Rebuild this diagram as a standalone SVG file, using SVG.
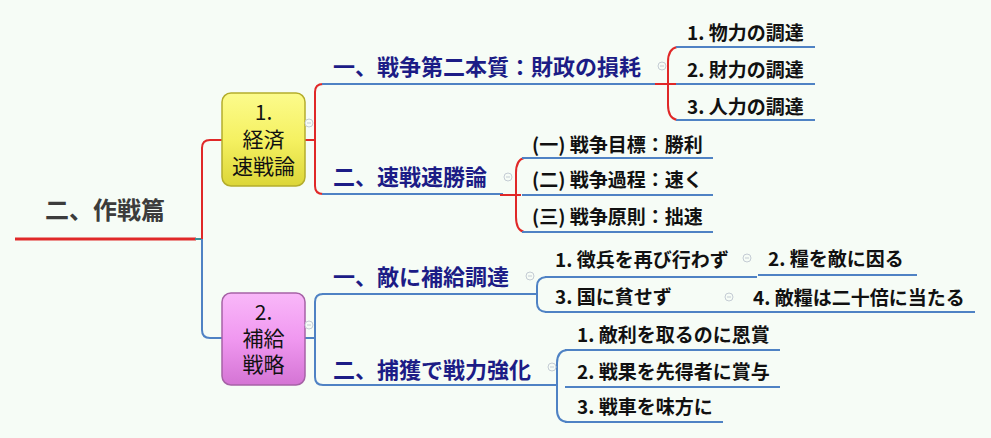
<svg xmlns="http://www.w3.org/2000/svg" width="991" height="438" viewBox="0 0 991 438">
<defs>
<linearGradient id="gy" x1="0" y1="0" x2="0" y2="1">
<stop offset="0" stop-color="#fcfb8c"/><stop offset="0.5" stop-color="#f5f162"/><stop offset="1" stop-color="#dcd638"/>
</linearGradient>
<linearGradient id="gp" x1="0" y1="0" x2="0" y2="1">
<stop offset="0" stop-color="#f9b8f9"/><stop offset="0.5" stop-color="#f098f0"/><stop offset="1" stop-color="#d474d4"/>
</linearGradient>
<g id="tog"><circle r="4" fill="#f6fcf6" stroke="#c4ccd4" stroke-width="1"/><path d="M-2,0H2" stroke="#c4ccd4" stroke-width="1"/></g>
</defs>
<style>
.bg{fill:#f6fcf6}
.r{fill:none;stroke:#e02828;stroke-width:2}
.b{fill:none;stroke:#4f82c4;stroke-width:2}
.root{font-family:"Noto Sans CJK JP","Noto Sans",sans-serif;font-weight:bold;font-size:24px;fill:#3c3c3c}
.box{font-family:"Noto Sans CJK JP","Noto Sans",sans-serif;font-size:21px;fill:#111;text-anchor:middle}
.n{font-family:"Noto Sans CJK JP","Noto Sans",sans-serif;font-weight:bold;font-size:22px;fill:#1c1c86}
.c{font-family:"Noto Sans CJK JP","Noto Sans",sans-serif;font-weight:bold;font-size:19px;fill:#111}
</style>
<rect class="bg" x="0" y="0" width="991" height="438"/>

<g id="connectors">
<path d="M15,239H196" stroke="#e02828" stroke-width="3" fill="none"/>
<path d="M195,239H202" stroke="#3a8f96" stroke-width="2" fill="none"/>
<path class="r" d="M222,140H210Q202,140 202,148V239"/>
<path class="b" d="M202,239V330Q202,338 210,338H222"/>
<path class="r" d="M305,140H315"/>
<path class="r" d="M323,84Q315,84 315,92V186Q315,194 323,194"/>
<path class="b" d="M322,84H657"/>
<path class="b" d="M322,194H503"/>
<path class="r" d="M655,84H676"/>
<path class="r" d="M677,47Q668,49 668,62V105Q668,118 677,120"/>
<path class="b" d="M676,47H815M676,84H815M676,120H815"/>
<path class="r" d="M500,195H521"/>
<path class="r" d="M524,158Q516,160 516,173V217Q516,230 524,232"/>
<path class="b" d="M522,158H713M522,195H713M522,232H713"/>
<path class="b" d="M305,338H315"/>
<path class="b" d="M323,294Q315,294 315,302V377Q315,385 323,385H557"/>
<path class="b" d="M322,294H537"/>
<path class="b" d="M546,277Q537,278 537,286V303Q537,311 546,312"/>
<path class="b" d="M545,277H757M758,275H917"/>
<path class="b" d="M545,312H742M742,312H975"/>
<path class="b" d="M567,350Q557,351 557,363V410Q557,421 567,422"/>
<path class="b" d="M565,350H780M565,387H780M565,422H723"/>
</g>

<g id="root"><text class="root" x="45" y="219">二、作戦篇</text></g>

<g id="box1">
<rect x="222" y="93" width="83" height="93" rx="9" fill="url(#gy)" stroke="#b4ad2c" stroke-width="1.5"/>
<text class="box" x="263.5" y="120">1.</text>
<text class="box" x="263.5" y="147">経済</text>
<text class="box" x="263.5" y="174">速戦論</text>
<use href="#tog" x="309" y="123"/>
</g>
<g id="box2">
<rect x="222" y="293" width="83" height="92" rx="9" fill="url(#gp)" stroke="#a662a6" stroke-width="1.5"/>
<text class="box" x="263.5" y="320">2.</text>
<text class="box" x="263.5" y="346">補給</text>
<text class="box" x="263.5" y="372">戦略</text>
<use href="#tog" x="309" y="325"/>
</g>

<g id="n1a"><text class="n" x="333" y="75">一、戦争第二本質：財政の損耗</text><use href="#tog" x="662" y="66"/></g>
<g id="n1b"><text class="n" x="333" y="185">二、速戦速勝論</text><use href="#tog" x="508" y="177"/></g>
<g id="c1"><text class="c" x="687" y="40">1. 物力の調達</text></g>
<g id="c2"><text class="c" x="687" y="77">2. 財力の調達</text></g>
<g id="c3"><text class="c" x="687" y="114">3. 人力の調達</text></g>
<g id="d1"><text class="c" x="532" y="152">(一) 戦争目標：勝利</text></g>
<g id="d2"><text class="c" x="532" y="187">(二) 戦争過程：速く</text></g>
<g id="d3"><text class="c" x="532" y="224">(三) 戦争原則：拙速</text></g>

<g id="n2a"><text class="n" x="333" y="285">一、敵に補給調達</text><use href="#tog" x="530" y="276"/></g>
<g id="n2b"><text class="n" x="333" y="378">二、捕獲で戦力強化</text><use href="#tog" x="552" y="367"/></g>
<g id="e1"><text class="c" x="555" y="267">1. 徴兵を再び行わず</text><use href="#tog" x="747" y="258"/></g>
<g id="e2"><text class="c" x="768" y="266">2. 糧を敵に因る</text></g>
<g id="e3"><text class="c" x="555" y="304">3. 国に貧せず</text><use href="#tog" x="729" y="297"/></g>
<g id="e4"><text class="c" x="753" y="305">4. 敵糧は二十倍に当たる</text></g>
<g id="f1"><text class="c" x="577" y="342">1. 敵利を取るのに恩賞</text></g>
<g id="f2"><text class="c" x="577" y="379">2. 戦果を先得者に賞与</text></g>
<g id="f3"><text class="c" x="577" y="414">3. 戦車を味方に</text></g>
</svg>
